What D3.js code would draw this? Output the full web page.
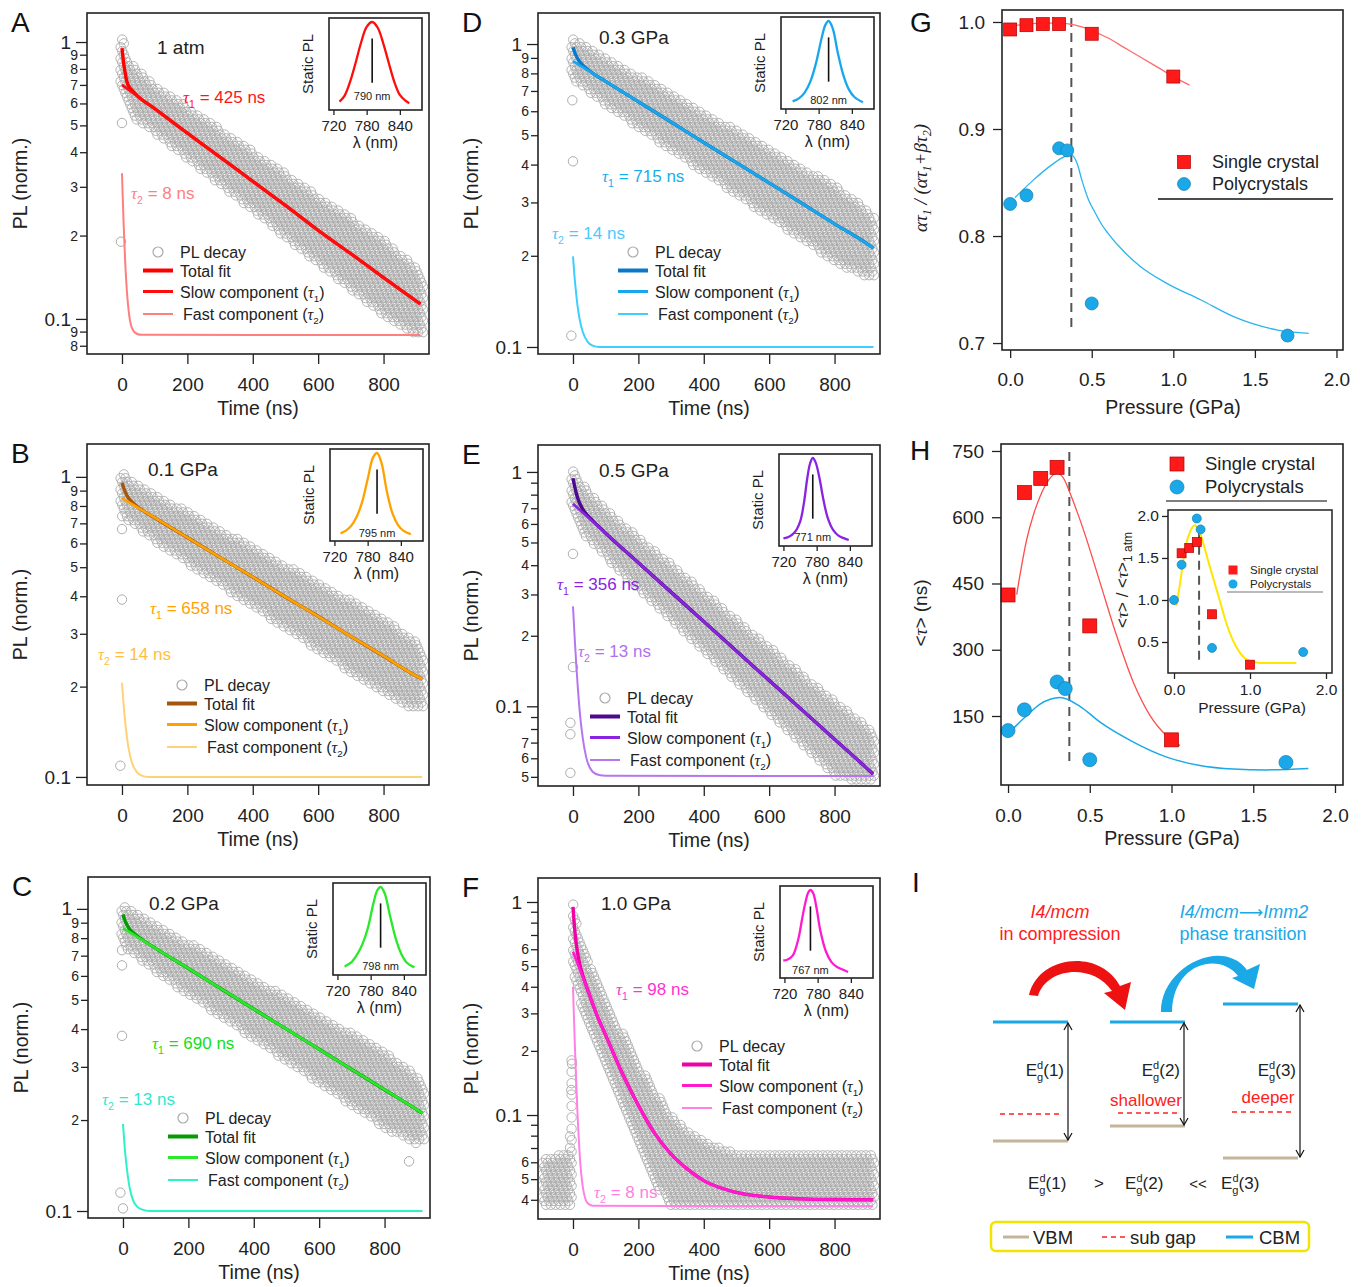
<!DOCTYPE html>
<html>
<head>
<meta charset="utf-8">
<script src="https://cdn.jsdelivr.net/npm/d3@7"></script>
<style>
body { margin: 0; background: #fff; }
svg { display: block; font-family: "Liberation Sans", Arial, sans-serif; }
</style>
</head>
<body>
<svg width="1366" height="1287"></svg>
<script>
// ---------- data ----------
const conditions = ['1 atm', '0.1 GPa', '0.2 GPa', '0.3 GPa', '0.5 GPa', '1.0 GPa'];
const tau1 = [425, 658, 690, 715, 356, 98];
const tau2 = [8, 14, 13, 14, 13, 8];
const peakLabel = [790, 795, 798, 802, 771, 767];
const timeTicks = [0, 200, 400, 600, 800];
const lambdaTicks = [720, 780, 840];
const majorTicks = [1, 0.1];
const minorLabelled = [
  [0.9, 0.8, 0.7, 0.6, 0.5, 0.4, 0.3, 0.2, 0.09, 0.08],
  [0.9, 0.8, 0.7, 0.6, 0.5, 0.4, 0.3, 0.2],
  [0.9, 0.8, 0.7, 0.6, 0.5, 0.4, 0.3, 0.2],
  [0.9, 0.8, 0.7, 0.6, 0.5, 0.4, 0.3, 0.2],
  [0.7, 0.6, 0.5, 0.4, 0.3, 0.2, 0.07, 0.06, 0.05],
  [0.6, 0.5, 0.4, 0.3, 0.2, 0.06, 0.05, 0.04]
];
const minorPlain = [[], [], [], [], [0.9, 0.8, 0.09, 0.08], [0.9, 0.8, 0.7, 0.09, 0.08, 0.07]];

// fit curves [time ns, PL]
const totalA = [[0,0.95],[5,0.84],[10,0.77],[15,0.72],[20,0.695],[30,0.67],[50,0.635],[100,0.575],[200,0.469],[300,0.384],[400,0.314],[500,0.257],[600,0.209],[700,0.172],[800,0.141],[913,0.113]];
const slowA = [[0,0.70],[100,0.573],[200,0.469],[300,0.384],[400,0.314],[500,0.257],[600,0.209],[700,0.172],[800,0.141],[913,0.113]];
const fastA = [[0,0.336],[2,0.282],[5,0.221],[10,0.159],[15,0.126],[20,0.108],[30,0.093],[45,0.0884],[60,0.0876],[913,0.0875]];
const totalB = [[0,0.955],[5,0.92],[10,0.889],[20,0.85],[30,0.825],[50,0.791],[100,0.731],[200,0.628],[300,0.539],[400,0.464],[500,0.398],[600,0.343],[700,0.294],[800,0.253],[900,0.217],[918,0.212]];
const slowB = [[0,0.85],[100,0.731],[200,0.628],[300,0.539],[400,0.464],[500,0.398],[600,0.343],[700,0.294],[800,0.253],[900,0.217],[918,0.212]];
const fastB = [[0,0.206],[5,0.174],[10,0.152],[15,0.136],[20,0.125],[30,0.112],[45,0.104],[60,0.101],[80,0.1],[918,0.1]];
const totalC = [[0,0.958],[5,0.921],[10,0.894],[20,0.858],[30,0.835],[50,0.804],[100,0.74],[200,0.635],[300,0.544],[400,0.466],[500,0.4],[600,0.343],[700,0.294],[800,0.252],[900,0.216],[916,0.2105]];
const slowC = [[0,0.864],[100,0.74],[200,0.635],[300,0.544],[400,0.466],[500,0.4],[600,0.343],[700,0.294],[800,0.252],[900,0.216],[916,0.2105]];
const fastC = [[0,0.194],[5,0.164],[10,0.144],[15,0.13],[20,0.12],[30,0.109],[45,0.103],[60,0.101],[80,0.1],[916,0.1]];
const totalD = [[0,0.975],[5,0.941],[10,0.914],[20,0.876],[30,0.851],[50,0.816],[100,0.753],[200,0.645],[300,0.553],[400,0.473],[500,0.406],[600,0.348],[700,0.298],[800,0.255],[900,0.219],[919,0.212]];
const slowD = [[0,0.878],[100,0.753],[200,0.645],[300,0.553],[400,0.473],[500,0.406],[600,0.348],[700,0.298],[800,0.255],[900,0.219],[919,0.212]];
const fastD = [[0,0.199],[5,0.169],[10,0.149],[15,0.134],[20,0.124],[30,0.112],[45,0.104],[60,0.101],[80,0.1],[919,0.1]];
const totalE = [[0,0.94],[5,0.869],[10,0.811],[15,0.769],[20,0.737],[30,0.693],[40,0.663],[60,0.62],[100,0.548],[200,0.41],[300,0.307],[400,0.23],[500,0.172],[600,0.129],[700,0.0966],[800,0.0723],[900,0.0542],[918,0.0514]];
const slowE = [[0,0.731],[100,0.548],[200,0.41],[300,0.307],[400,0.23],[500,0.172],[600,0.129],[700,0.0966],[800,0.0723],[900,0.0542],[918,0.0514]];
const fastE = [[0,0.267],[5,0.198],[10,0.151],[15,0.119],[20,0.097],[30,0.073],[40,0.061],[60,0.0526],[80,0.0509],[100,0.0505],[918,0.0504]];
const totalF = [[0,0.948],[5,0.752],[10,0.637],[15,0.565],[20,0.516],[30,0.452],[40,0.406],[50,0.368],[75,0.29],[100,0.237],[150,0.158],[200,0.111],[250,0.082],[300,0.0655],[350,0.0557],[400,0.0492],[500,0.0433],[600,0.0412],[700,0.0404],[800,0.0401],[918,0.04]];
const slowF = [[0,0.585],[10,0.533],[20,0.486],[30,0.444],[40,0.404],[50,0.368],[75,0.29],[100,0.237],[150,0.158],[200,0.111],[250,0.082],[300,0.0655],[350,0.0557],[400,0.0492],[500,0.0433],[600,0.0412],[700,0.0404],[800,0.0401],[918,0.04]];
const fastF = [[0,0.4],[2,0.32],[5,0.23],[10,0.14],[15,0.093],[20,0.067],[30,0.046],[45,0.0385],[60,0.0375],[918,0.0373]];

// spread of the measured decay [time, low, high] and lone points [time, PL]
const bandA = [[-8,0.72,1.0],[0,0.66,1.04],[10,0.6,0.95],[30,0.54,0.83],[100,0.471,0.702],[200,0.378,0.582],[300,0.304,0.485],[400,0.245,0.403],[500,0.197,0.335],[600,0.158,0.277],[700,0.128,0.232],[800,0.103,0.193],[900,0.087,0.153],[925,0.087,0.139]];
const bandB = [[-8,0.8,1.0],[0,0.74,1.04],[30,0.7,0.98],[100,0.609,0.878],[200,0.515,0.766],[300,0.435,0.668],[400,0.369,0.584],[500,0.312,0.508],[600,0.264,0.445],[700,0.223,0.387],[800,0.189,0.338],[900,0.167,0.281],[925,0.17,0.26]];
const bandC = [[-8,0.8,1.0],[0,0.75,1.04],[30,0.71,0.99],[100,0.616,0.889],[200,0.52,0.775],[300,0.439,0.674],[400,0.37,0.586],[500,0.313,0.511],[600,0.264,0.445],[700,0.223,0.387],[800,0.188,0.337],[900,0.167,0.28],[925,0.17,0.26]];
const bandD = [[-8,0.8,1.0],[0,0.76,1.04],[30,0.72,1.0],[100,0.627,0.904],[200,0.529,0.787],[300,0.446,0.685],[400,0.376,0.595],[500,0.318,0.518],[600,0.268,0.451],[700,0.226,0.392],[800,0.191,0.341],[900,0.169,0.284],[925,0.171,0.263]];
const bandE = [[-8,0.72,1.0],[0,0.66,1.04],[30,0.54,0.88],[100,0.433,0.693],[200,0.318,0.529],[300,0.233,0.404],[400,0.171,0.309],[500,0.126,0.235],[600,0.0925,0.18],[700,0.068,0.1375],[800,0.05,0.105],[900,0.047,0.082],[925,0.048,0.072]];
const bandF = [[-94,0.0366,0.063],[-10,0.0366,0.066],[-6,0.0366,0.19],[-1,0.05,0.19],[0,0.48,1.04],[8,0.42,0.88],[20,0.35,0.68],[50,0.25,0.5],[100,0.165,0.36],[150,0.11,0.245],[200,0.072,0.175],[250,0.048,0.13],[300,0.0366,0.1],[350,0.0366,0.085],[400,0.0366,0.075],[500,0.0366,0.066],[900,0.0366,0.066],[925,0.0366,0.063]];
const outA = [[0,0.51],[-3,0.19]];
const outB = [[0,0.67],[0,0.39],[-5,0.109]];
const outC = [[-3,0.73],[-3,0.65],[-3,0.38],[-8,0.115],[0,0.102],[875,0.146]];
const outD = [[-2,0.652],[0,0.41],[-5,0.109]];
const outE = [[0,0.447],[0,0.147],[-8,0.085],[-8,0.076],[-8,0.052]];
const outF = [[-3,0.174],[-5,0.131]];

// static PL spectra [wavelength nm, normalised intensity]
const specA = [[731,0.03],[740,0.1],[750,0.27],[760,0.5],[770,0.75],[780,0.94],[790,1],[800,0.93],[810,0.74],[820,0.5],[830,0.27],[840,0.11],[850,0.04],[857,0.01]];
const specB = [[731,0.02],[740,0.05],[750,0.11],[760,0.22],[770,0.4],[780,0.68],[790,0.95],[797,1],[805,0.88],[815,0.52],[825,0.26],[835,0.12],[845,0.05],[858,0.01]];
const specC = [[733,0.03],[745,0.08],[755,0.17],[765,0.3],[775,0.5],[785,0.8],[792,0.96],[798,1],[805,0.93],[815,0.65],[825,0.38],[835,0.19],[845,0.08],[859,0.02]];
const specD = [[733,0.02],[745,0.06],[755,0.13],[765,0.26],[775,0.48],[785,0.78],[792,0.95],[798,1],[805,0.92],[815,0.6],[825,0.33],[835,0.16],[845,0.07],[860,0.01]];
const specE = [[720,0.02],[730,0.04],[740,0.09],[750,0.22],[757,0.45],[763,0.75],[768,0.93],[773,1],[778,0.95],[785,0.76],[792,0.5],[800,0.27],[810,0.12],[820,0.05],[830,0.02],[838,0]];
const specF = [[718,0.14],[725,0.15],[735,0.2],[745,0.4],[752,0.65],[758,0.85],[763,0.97],[767,1],[772,0.96],[778,0.78],[785,0.5],[795,0.25],[805,0.12],[815,0.06],[825,0.03],[835,0]];

// G and H
const pressureSC = [0, 0.1, 0.2, 0.3, 0.5, 1.0];
const pressurePC = [0, 0.1, 0.3, 0.35, 0.5, 1.7];
const ratioSC = [0.993, 0.997, 0.998, 0.998, 0.989, 0.949];
const ratioPC = [0.830, 0.838, 0.882, 0.880, 0.737, 0.707];
const fitRatioSC = [[0,0.996],[0.1,0.998],[0.2,0.999],[0.3,0.999],[0.4,0.997],[0.5,0.992],[0.6,0.985],[0.7,0.976],[0.8,0.967],[0.9,0.958],[1.0,0.949],[1.1,0.941]];
const fitRatioPC = [[0.03,0.836],[0.14,0.852],[0.25,0.866],[0.33,0.874],[0.37,0.876],[0.41,0.868],[0.44,0.852],[0.48,0.834],[0.52,0.822],[0.56,0.811],[0.6,0.8025],[0.7,0.785],[0.8,0.7713],[0.96,0.7558],[1.17,0.7402],[1.37,0.7246],[1.64,0.7121],[1.83,0.709]];
const lifetimeSC = [424, 656, 688, 713, 354, 96];
const lifetimePC = [117, 164, 227, 212, 51, 45];
const fitLifeSC = [[0.053,425],[0.114,549],[0.155,605],[0.196,647],[0.25,685],[0.298,700],[0.34,688],[0.379,655],[0.42,615],[0.461,572],[0.563,452],[0.665,331],[0.767,226],[0.869,151],[0.971,105],[1.052,83]];
const fitLifePC = [[0.02,117],[0.114,151],[0.196,177],[0.318,192],[0.44,172],[0.563,136],[0.767,91],[0.971,57],[1.174,38],[1.378,30],[1.58,28],[1.837,31]];
const insetPressSC = [0.1, 0.2, 0.3, 0.5, 1.0];
const insetRelSC = [1.556, 1.62, 1.69, 0.83, 0.23];
const insetRelPC = [1.0, 1.42, 1.97, 1.84, 0.43, 0.38];
const fitRel = [[0.03,0.93],[0.08,1.2],[0.145,1.6],[0.21,1.81],[0.276,1.89],[0.33,1.82],[0.47,1.4],[0.6,1.0],[0.69,0.72],[0.82,0.44],[0.96,0.29],[1.13,0.25],[1.61,0.25]];
const transitionP = 0.375;
const pressureTicks = [0, 0.5, 1, 1.5, 2];

// ---------- layout ----------
const W = 342, H = 341;
const panels = [
  {key:'A', left:87,  top:13,  yDom:[0.0747,1.273], total:totalA, slow:slowA, fast:fastA, band:bandA, out:outA, spec:specA,
   c:{total:'#ff0000', slow:'#ff0d0d', fast:'#ff7f7f', t1:'#ff1414', t2:'#ff8080'}, cond:[157,47], t1:[183,97], t2:[131,193], leg:[143,252], inset:[329,18], nmDy:14},
  {key:'B', left:87,  top:444, yDom:[0.094,1.287], total:totalB, slow:slowB, fast:fastB, band:bandB, out:outB, spec:specB,
   c:{total:'#a4560f', slow:'#ffa200', fast:'#ffd27a', t1:'#ffa200', t2:'#ffbe40'}, cond:[148,469], t1:[150,608], t2:[98,654], leg:[167,685], inset:[330,449], nmDy:8},
  {key:'C', left:88,  top:877, yDom:[0.0948,1.275], total:totalC, slow:slowC, fast:fastC, band:bandC, out:outC, spec:specC,
   c:{total:'#079a07', slow:'#2ae82a', fast:'#30f0c8', t1:'#14e014', t2:'#30e8cc'}, cond:[149,903], t1:[152,1043], t2:[102,1099], leg:[168,1118], inset:[333,883], nmDy:9},
  {key:'D', left:538, top:13,  yDom:[0.0948,1.266], total:totalD, slow:slowD, fast:fastD, band:bandD, out:outD, spec:specD,
   c:{total:'#0a78c8', slow:'#18a6ec', fast:'#3ccfff', t1:'#18aef0', t2:'#4cc8ff'}, cond:[599,37], t1:[602,176], t2:[552,233], leg:[618,252], inset:[781,17], nmDy:9},
  {key:'E', left:538, top:445, yDom:[0.0457,1.303], total:totalE, slow:slowE, fast:fastE, band:bandE, out:outE, spec:specE,
   c:{total:'#4d0a8f', slow:'#8a24e0', fast:'#b577ef', t1:'#8a24e0', t2:'#b070f0'}, cond:[599,470], t1:[557,584], t2:[578,651], leg:[590,698], inset:[779,454], nmDy:9},
  {key:'F', left:538, top:878, yDom:[0.0325,1.296], total:totalF, slow:slowF, fast:fastF, band:bandF, out:outF, spec:specF,
   c:{total:'#f000a6', slow:'#ff1ad0', fast:'#ff80e6', t1:'#ff33d0', t2:'#ff80e0'}, cond:[601,903], t1:[616,989], t2:[594,1192], leg:[682,1046], inset:[780,886], nmDy:8}
];
const legendRows = [0, 18.5, 39.5, 62];
const serif = '"Liberation Serif", "DejaVu Serif", serif';
const ink = '#222';

const svg = d3.select('svg');
const defs = svg.append('defs');

function subText(t, base, sub, rest, size, subDy) {
  t.append('tspan').attr('font-family', serif).attr('font-style', 'italic').text(base);
  t.append('tspan').attr('font-size', size * 0.62).attr('dy', subDy).text(sub);
  t.append('tspan').attr('dy', -subDy).text(rest);
}

function styleAxis(a, size) {
  a.attr('font-family', null).attr('font-size', size).attr('color', ink);
  a.select('.domain').remove();
  a.selectAll('.tick line').attr('stroke-width', 1.3);
}

function drawPL(p, i) {
  const g = svg.append('g');
  const x = d3.scaleLinear().domain([-107, 939]).range([p.left, p.left + W]);
  const y = d3.scaleLog().domain(p.yDom).range([p.top + H, p.top]);

  defs.append('clipPath').attr('id', 'clip' + p.key)
    .append('rect').attr('x', p.left).attr('y', p.top).attr('width', W).attr('height', H);
  const plot = g.append('g').attr('clip-path', `url(#clip${p.key})`);

  // grey decay cloud: rings on a lattice inside the measured spread
  const poly = p.band.map(d => [x(d[0]), y(d[2])])
    .concat(p.band.slice().reverse().map(d => [x(d[0]), y(d[1])]));
  const pts = [];
  for (let j = 0, yy = p.top; yy <= p.top + H; yy += 3.8, j++) {
    for (let xx = p.left + (j % 3) * 1.6; xx <= p.left + W; xx += 4.8) {
      if (d3.polygonContains(poly, [xx, yy])) pts.push([xx, yy]);
    }
  }
  plot.append('g').selectAll('circle').data(pts).join('circle')
    .attr('cx', d => d[0]).attr('cy', d => d[1]).attr('r', 4.7)
    .attr('fill', 'none').attr('stroke', '#ababab').attr('stroke-width', 0.9);
  plot.append('g').selectAll('circle').data(p.out).join('circle')
    .attr('cx', d => x(d[0])).attr('cy', d => y(d[1])).attr('r', 4.7)
    .attr('fill', 'none').attr('stroke', '#adadad').attr('stroke-width', 1);

  const line = d3.line().x(d => x(d[0])).y(d => y(d[1])).curve(d3.curveMonotoneX);
  plot.append('path').datum(p.fast).attr('d', line).attr('fill', 'none').attr('stroke', p.c.fast).attr('stroke-width', 2);
  plot.append('path').datum(p.total).attr('d', line).attr('fill', 'none').attr('stroke', p.c.total).attr('stroke-width', 3.4);
  plot.append('path').datum(p.slow).attr('d', line).attr('fill', 'none').attr('stroke', p.c.slow).attr('stroke-width', 2.6);

  g.append('rect').attr('x', p.left).attr('y', p.top).attr('width', W).attr('height', H)
    .attr('fill', 'none').attr('stroke', ink).attr('stroke-width', 1.6);

  // axes
  g.append('g').attr('transform', `translate(${p.left},0)`)
    .call(d3.axisLeft(y).tickValues(majorTicks).tickSize(11).tickPadding(5).tickFormat(d => d === 1 ? '1' : '0.1'))
    .call(a => styleAxis(a, 19));
  g.append('g').attr('transform', `translate(${p.left},0)`)
    .call(d3.axisLeft(y).tickValues(minorLabelled[i]).tickSize(7).tickPadding(2)
      .tickFormat(d => Math.round(d / Math.pow(10, Math.floor(Math.log10(d) + 1e-9)))))
    .call(a => styleAxis(a, 14));
  g.append('g').attr('transform', `translate(${p.left},0)`)
    .call(d3.axisLeft(y).tickValues(minorPlain[i]).tickSize(7).tickFormat(''))
    .call(a => styleAxis(a, 14));
  g.append('g').attr('transform', `translate(0,${p.top + H})`)
    .call(d3.axisBottom(x).tickValues(timeTicks).tickSize(10).tickPadding(14).tickFormat(d3.format('d')))
    .call(a => styleAxis(a, 19));

  g.append('text').attr('x', p.left + W / 2).attr('y', p.top + H + 61).attr('text-anchor', 'middle')
    .attr('font-size', 19.5).attr('fill', ink).text('Time (ns)');
  g.append('text').attr('transform', `translate(${p.left - 60},${p.top + H / 2}) rotate(-90)`)
    .attr('text-anchor', 'middle').attr('font-size', 19.5).attr('fill', ink).text('PL (norm.)');
  g.append('text').attr('x', p.left - 76).attr('y', p.top + 19).attr('font-size', 28).attr('fill', '#111').text(p.key);

  // annotations
  g.append('text').attr('x', p.cond[0]).attr('y', p.cond[1] + 7).attr('font-size', 19).attr('fill', ink).text(conditions[i]);
  subText(g.append('text').attr('x', p.t1[0]).attr('y', p.t1[1] + 6).attr('font-size', 17).attr('fill', p.c.t1), 'τ', '1', ` = ${tau1[i]} ns`, 17, 5);
  subText(g.append('text').attr('x', p.t2[0]).attr('y', p.t2[1] + 6).attr('font-size', 17).attr('fill', p.c.t2), 'τ', '2', ` = ${tau2[i]} ns`, 17, 5);

  // legend
  const lx = p.leg[0], ly = p.leg[1];
  g.append('circle').attr('cx', lx + 15).attr('cy', ly).attr('r', 5).attr('fill', 'none').attr('stroke', '#aaa').attr('stroke-width', 1.2);
  [[p.c.total, 4], [p.c.slow, 3], [p.c.fast, 2]].forEach((s, k) => {
    g.append('line').attr('x1', lx).attr('x2', lx + 30).attr('y1', ly + legendRows[k + 1]).attr('y2', ly + legendRows[k + 1])
      .attr('stroke', s[0]).attr('stroke-width', s[1]);
  });
  const lt = (k, dx) => g.append('text').attr('x', lx + dx).attr('y', ly + legendRows[k] + 6).attr('font-size', 16).attr('fill', ink);
  lt(0, 37).text('PL decay');
  lt(1, 37).text('Total fit');
  subText(lt(2, 37).text('Slow component ('), 'τ', '1', ')', 16, 4);
  subText(lt(3, 40).text('Fast component ('), 'τ', '2', ')', 16, 4);

  // inset spectrum
  const il = p.inset[0], it = p.inset[1], iw = 93, ih = 92;
  const ix = d3.scaleLinear().domain([712, 880]).range([il, il + iw]);
  const iy = d3.scaleLinear().domain([0, 1]).range([it + ih - 6, it + 4]);
  g.append('rect').attr('x', il).attr('y', it).attr('width', iw).attr('height', ih).attr('fill', '#fff')
    .attr('stroke', ink).attr('stroke-width', 1.6);
  g.append('path').datum(p.spec).attr('fill', 'none').attr('stroke', p.c.slow).attr('stroke-width', 2.3)
    .attr('d', d3.line().x(d => ix(d[0])).y(d => iy(d[1])).curve(d3.curveCatmullRom));
  const peak = p.spec.reduce((a, b) => (b[1] > a[1] ? b : a));
  g.append('line').attr('x1', ix(peak[0])).attr('x2', ix(peak[0])).attr('y1', iy(0.8)).attr('y2', iy(0.26))
    .attr('stroke', '#111').attr('stroke-width', 1.6);
  g.append('text').attr('x', ix(peak[0])).attr('y', it + ih - p.nmDy + 4).attr('text-anchor', 'middle')
    .attr('font-size', 11).attr('fill', ink).text(peakLabel[i] + ' nm');
  g.append('g').attr('transform', `translate(0,${it + ih})`)
    .call(d3.axisBottom(ix).tickValues(lambdaTicks).tickSize(5).tickPadding(5))
    .call(a => styleAxis(a, 15));
  g.append('text').attr('x', il + iw / 2).attr('y', it + ih + 38).attr('text-anchor', 'middle')
    .attr('font-size', 16).attr('fill', ink).text('λ (nm)');
  g.append('text').attr('transform', `translate(${il - 16},${it + ih / 2}) rotate(-90)`)
    .attr('text-anchor', 'middle').attr('font-size', 15).attr('fill', ink).text('Static PL');
}

panels.forEach(drawPL);

// ---------- shared helpers for G/H ----------
const red = '#ff1a1a', blue = '#1aa8e8';
function squares(g, xs, ys, sx, sy, s) {
  g.selectAll(null).data(xs).join('rect')
    .attr('x', d => sx(d) - s / 2).attr('y', (d, k) => sy(ys[k]) - s / 2)
    .attr('width', s).attr('height', s).attr('fill', red).attr('stroke', '#b00000').attr('stroke-width', 0.7);
}
function dots(g, xs, ys, sx, sy, r) {
  g.selectAll(null).data(xs).join('circle')
    .attr('cx', d => sx(d)).attr('cy', (d, k) => sy(ys[k])).attr('r', r)
    .attr('fill', blue).attr('stroke', '#167fb2').attr('stroke-width', 0.7);
}
function fitLine(g, data, sx, sy, color, w) {
  g.append('path').datum(data).attr('fill', 'none').attr('stroke', color).attr('stroke-width', w)
    .attr('d', d3.line().x(d => sx(d[0])).y(d => sy(d[1])).curve(d3.curveMonotoneX));
}
function dashed(g, x, y0, y1) {
  g.append('line').attr('x1', x).attr('x2', x).attr('y1', y0).attr('y2', y1)
    .attr('stroke', '#555').attr('stroke-width', 2).attr('stroke-dasharray', '9,6');
}

// ---------- G ----------
{
  const g = svg.append('g');
  const x = d3.scaleLinear().domain([-0.05, 2.04]).range([1002, 1343]);
  const y = d3.scaleLinear().domain([0.6935, 1.0112]).range([350, 10]);
  dashed(g, x(transitionP), y(0.715), y(1.005));
  fitLine(g, fitRatioSC, x, y, '#ff6b6b', 1.3);
  fitLine(g, fitRatioPC, x, y, '#2ab4ee', 1.3);
  squares(g, pressureSC, ratioSC, x, y, 13);
  dots(g, pressurePC, ratioPC, x, y, 6.5);
  g.append('rect').attr('x', 1002).attr('y', 10).attr('width', 341).attr('height', 340)
    .attr('fill', 'none').attr('stroke', ink).attr('stroke-width', 1.6);
  g.append('g').attr('transform', 'translate(1002,0)')
    .call(d3.axisLeft(y).tickValues([0.7, 0.8, 0.9, 1.0]).tickSize(9).tickPadding(8).tickFormat(d3.format('.1f')))
    .call(a => styleAxis(a, 19));
  g.append('g').attr('transform', 'translate(0,350)')
    .call(d3.axisBottom(x).tickValues(pressureTicks).tickSize(8).tickPadding(15).tickFormat(d3.format('.1f')))
    .call(a => styleAxis(a, 19));
  g.append('text').attr('x', 1173).attr('y', 414).attr('text-anchor', 'middle').attr('font-size', 19.5).attr('fill', ink).text('Pressure (GPa)');
  const yl = g.append('text').attr('transform', 'translate(927,178) rotate(-90)').attr('text-anchor', 'middle')
    .attr('font-size', 19).attr('font-family', serif).attr('font-style', 'italic').attr('fill', ink);
  yl.append('tspan').text('ατ');
  yl.append('tspan').attr('font-size', 12).attr('dy', 4).text('1');
  yl.append('tspan').attr('dy', -4).text(' / (ατ');
  yl.append('tspan').attr('font-size', 12).attr('dy', 4).text('1');
  yl.append('tspan').attr('dy', -4).text('+βτ');
  yl.append('tspan').attr('font-size', 12).attr('dy', 4).text('2');
  yl.append('tspan').attr('dy', -4).text(')');
  g.append('rect').attr('x', 1177.5).attr('y', 155.5).attr('width', 13).attr('height', 13).attr('fill', red).attr('stroke', '#b00000').attr('stroke-width', 0.7);
  g.append('circle').attr('cx', 1184).attr('cy', 184).attr('r', 6.5).attr('fill', blue).attr('stroke', '#167fb2').attr('stroke-width', 0.7);
  g.append('text').attr('x', 1212).attr('y', 168).attr('font-size', 18).attr('fill', ink).text('Single crystal');
  g.append('text').attr('x', 1212).attr('y', 190).attr('font-size', 18).attr('fill', ink).text('Polycrystals');
  g.append('line').attr('x1', 1158).attr('x2', 1333).attr('y1', 199).attr('y2', 199).attr('stroke', '#111').attr('stroke-width', 1.5);
  g.append('text').attr('x', 910).attr('y', 32).attr('font-size', 28).attr('fill', '#111').text('G');
}

// ---------- H ----------
{
  const g = svg.append('g');
  const x = d3.scaleLinear().domain([-0.043, 2.049]).range([1001, 1343]);
  const y = d3.scaleLinear().domain([-6.2, 765.8]).range([785, 444]);
  dashed(g, x(transitionP), y(48), y(757));
  fitLine(g, fitLifeSC, x, y, '#ff4d4d', 1.3);
  fitLine(g, fitLifePC, x, y, '#1aa8e8', 1.5);
  squares(g, pressureSC, lifetimeSC, x, y, 14);
  dots(g, pressurePC, lifetimePC, x, y, 7);
  g.append('rect').attr('x', 1001).attr('y', 444).attr('width', 342).attr('height', 341)
    .attr('fill', 'none').attr('stroke', ink).attr('stroke-width', 1.6);
  g.append('g').attr('transform', 'translate(1001,0)')
    .call(d3.axisLeft(y).tickValues([150, 300, 450, 600, 750]).tickSize(9).tickPadding(8))
    .call(a => styleAxis(a, 19));
  g.append('g').attr('transform', 'translate(0,785)')
    .call(d3.axisBottom(x).tickValues(pressureTicks).tickSize(8).tickPadding(16).tickFormat(d3.format('.1f')))
    .call(a => styleAxis(a, 19));
  g.append('text').attr('x', 1172).attr('y', 845).attr('text-anchor', 'middle').attr('font-size', 19.5).attr('fill', ink).text('Pressure (GPa)');
  const yl = g.append('text').attr('transform', 'translate(927,613) rotate(-90)').attr('text-anchor', 'middle')
    .attr('font-size', 19).attr('fill', ink);
  yl.append('tspan').text('<');
  yl.append('tspan').attr('font-family', serif).attr('font-style', 'italic').text('τ');
  yl.append('tspan').text('> (ns)');
  g.append('rect').attr('x', 1170).attr('y', 457).attr('width', 14).attr('height', 14).attr('fill', red).attr('stroke', '#b00000').attr('stroke-width', 0.7);
  g.append('circle').attr('cx', 1177).attr('cy', 487).attr('r', 7).attr('fill', blue).attr('stroke', '#167fb2').attr('stroke-width', 0.7);
  g.append('text').attr('x', 1205).attr('y', 470).attr('font-size', 18.5).attr('fill', ink).text('Single crystal');
  g.append('text').attr('x', 1205).attr('y', 493).attr('font-size', 18.5).attr('fill', ink).text('Polycrystals');
  g.append('line').attr('x1', 1166).attr('x2', 1327).attr('y1', 501).attr('y2', 501).attr('stroke', '#555').attr('stroke-width', 1.5);
  g.append('text').attr('x', 910).attr('y', 460).attr('font-size', 28).attr('fill', '#111').text('H');

  // inset
  const ix = d3.scaleLinear().domain([-0.079, 2.079]).range([1168, 1332]);
  const iy = d3.scaleLinear().domain([0.131, 2.071]).range([673, 510]);
  g.append('rect').attr('x', 1168).attr('y', 510).attr('width', 164).attr('height', 163).attr('fill', '#fff');
  dashed(g, ix(0.33), iy(0.29), iy(1.89));
  fitLine(g, fitRel, ix, iy, '#ffe600', 2);
  squares(g, insetPressSC, insetRelSC, ix, iy, 9);
  dots(g, pressurePC, insetRelPC, ix, iy, 4.5);
  g.append('rect').attr('x', 1168).attr('y', 510).attr('width', 164).attr('height', 163)
    .attr('fill', 'none').attr('stroke', ink).attr('stroke-width', 1.5);
  g.append('g').attr('transform', 'translate(1168,0)')
    .call(d3.axisLeft(iy).tickValues([0.5, 1.0, 1.5, 2.0]).tickSize(6).tickPadding(3).tickFormat(d3.format('.1f')))
    .call(a => styleAxis(a, 15.5));
  g.append('g').attr('transform', 'translate(0,673)')
    .call(d3.axisBottom(ix).tickValues([0, 1, 2]).tickSize(6).tickPadding(5).tickFormat(d3.format('.1f')))
    .call(a => styleAxis(a, 15.5));
  g.append('text').attr('x', 1252).attr('y', 713).attr('text-anchor', 'middle').attr('font-size', 15.5).attr('fill', ink).text('Pressure (GPa)');
  const il = g.append('text').attr('transform', 'translate(1128,580) rotate(-90)').attr('text-anchor', 'middle')
    .attr('font-size', 17).attr('fill', ink);
  il.append('tspan').text('<');
  il.append('tspan').attr('font-family', serif).attr('font-style', 'italic').text('τ');
  il.append('tspan').text('> / <');
  il.append('tspan').attr('font-family', serif).attr('font-style', 'italic').text('τ');
  il.append('tspan').text('>');
  il.append('tspan').attr('font-size', 12).attr('dy', 4).text('1 atm');
  g.append('rect').attr('x', 1228.5).attr('y', 565.5).attr('width', 9).attr('height', 9).attr('fill', red);
  g.append('circle').attr('cx', 1233).attr('cy', 584).attr('r', 4.5).attr('fill', blue);
  g.append('text').attr('x', 1250).attr('y', 574).attr('font-size', 11.5).attr('fill', ink).text('Single crystal');
  g.append('text').attr('x', 1250).attr('y', 588).attr('font-size', 11.5).attr('fill', ink).text('Polycrystals');
  g.append('line').attr('x1', 1227).attr('x2', 1323).attr('y1', 592).attr('y2', 592).attr('stroke', '#777').attr('stroke-width', 1.2);
}

// ---------- I : schematic ----------
{
  const g = svg.append('g');
  const cRed = '#ff2020', cBlue = '#1aa8e6', cTan = '#c4b59a';
  g.append('text').attr('x', 912).attr('y', 892).attr('font-size', 28).attr('fill', '#111').text('I');

  const t1 = g.append('text').attr('x', 1060).attr('y', 918).attr('text-anchor', 'middle').attr('font-size', 18).attr('fill', cRed);
  t1.append('tspan').attr('font-style', 'italic').text('I4/mcm');
  g.append('text').attr('x', 1060).attr('y', 940).attr('text-anchor', 'middle').attr('font-size', 18).attr('fill', cRed).text('in compression');
  const t2 = g.append('text').attr('x', 1244).attr('y', 918).attr('text-anchor', 'middle').attr('font-size', 18).attr('fill', cBlue);
  t2.append('tspan').attr('font-style', 'italic').text('I4/mcm');
  t2.append('tspan').attr('font-family', '"DejaVu Sans", sans-serif').attr('font-size', 17).text('⟶');
  t2.append('tspan').attr('font-style', 'italic').text('Imm2');
  g.append('text').attr('x', 1243).attr('y', 940).attr('text-anchor', 'middle').attr('font-size', 18).attr('fill', cBlue).text('phase transition');

  g.append('path').attr('fill', '#ee1111')
    .attr('d', 'M1029,995 C1038,955 1100,948 1120,986 L1131,982 L1125,1010 L1104,993 L1112,991 C1092,962 1046,968 1038,996 Z');
  g.append('path').attr('fill', cBlue)
    .attr('d', 'M1161,1012 C1160,968 1222,936 1247,970 L1260,964 L1254,989 L1232,978 L1238,976 C1220,952 1173,962 1172,1012 Z');

  const levels = [
    {x0: 993,  x1: 1068, cbm: 1022, vbm: 1141, sub: 1114, s0: 1000, s1: 1062, ax: 1068},
    {x0: 1110, x1: 1185, cbm: 1022, vbm: 1126, sub: 1113, s0: 1118, s1: 1178, ax: 1184},
    {x0: 1223, x1: 1298, cbm: 1004, vbm: 1158, sub: 1112, s0: 1232, s1: 1293, ax: 1300}
  ];
  function egText(t, n) {
    t.attr('font-size', 17).attr('fill', ink);
    t.append('tspan').text('E');
    t.append('tspan').attr('font-size', 11).attr('dy', 5).text('g');
    t.append('tspan').attr('font-size', 11).attr('dx', -6).attr('dy', -12).text('d');
    t.append('tspan').attr('dy', 7).text(`(${n})`);
  }
  levels.forEach((L, k) => {
    g.append('line').attr('x1', L.x0).attr('x2', L.x1).attr('y1', L.cbm).attr('y2', L.cbm).attr('stroke', cBlue).attr('stroke-width', 3);
    g.append('line').attr('x1', L.x0).attr('x2', L.x1).attr('y1', L.vbm).attr('y2', L.vbm).attr('stroke', cTan).attr('stroke-width', 3);
    g.append('line').attr('x1', L.s0).attr('x2', L.s1).attr('y1', L.sub).attr('y2', L.sub).attr('stroke', cRed)
      .attr('stroke-width', 1.4).attr('stroke-dasharray', '5,4');
    g.append('line').attr('x1', L.ax).attr('x2', L.ax).attr('y1', L.cbm + 1).attr('y2', L.vbm - 1).attr('stroke', '#111').attr('stroke-width', 1.2);
    g.append('path').attr('fill', 'none').attr('stroke', '#111').attr('stroke-width', 1.2)
      .attr('d', `M${L.ax - 4},${L.cbm + 8} L${L.ax},${L.cbm + 1} L${L.ax + 4},${L.cbm + 8} M${L.ax - 4},${L.vbm - 8} L${L.ax},${L.vbm - 1} L${L.ax + 4},${L.vbm - 8}`);
    egText(g.append('text').attr('x', L.ax - 4).attr('y', 1076).attr('text-anchor', 'end'), k + 1);
  });
  g.append('text').attr('x', 1146).attr('y', 1106).attr('text-anchor', 'middle').attr('font-size', 17).attr('fill', cRed).text('shallower');
  g.append('text').attr('x', 1268).attr('y', 1103).attr('text-anchor', 'middle').attr('font-size', 17).attr('fill', cRed).text('deeper');

  egText(g.append('text').attr('x', 1028).attr('y', 1189), 1);
  g.append('text').attr('x', 1099).attr('y', 1189).attr('text-anchor', 'middle').attr('font-size', 17).attr('fill', ink).text('>');
  egText(g.append('text').attr('x', 1125).attr('y', 1189), 2);
  g.append('text').attr('x', 1198).attr('y', 1189).attr('text-anchor', 'middle').attr('font-size', 15).attr('fill', ink).text('<<');
  egText(g.append('text').attr('x', 1221).attr('y', 1189), 3);

  g.append('rect').attr('x', 991).attr('y', 1222).attr('width', 318).attr('height', 29).attr('rx', 5)
    .attr('fill', 'none').attr('stroke', '#f0e400').attr('stroke-width', 2.5);
  g.append('line').attr('x1', 1003).attr('x2', 1029).attr('y1', 1237).attr('y2', 1237).attr('stroke', cTan).attr('stroke-width', 3);
  g.append('text').attr('x', 1033).attr('y', 1244).attr('font-size', 18.5).attr('fill', ink).text('VBM');
  g.append('line').attr('x1', 1102).attr('x2', 1128).attr('y1', 1237).attr('y2', 1237).attr('stroke', cRed)
    .attr('stroke-width', 1.4).attr('stroke-dasharray', '5,4');
  g.append('text').attr('x', 1130).attr('y', 1244).attr('font-size', 18.5).attr('fill', ink).text('sub gap');
  g.append('line').attr('x1', 1226).attr('x2', 1253).attr('y1', 1237).attr('y2', 1237).attr('stroke', cBlue).attr('stroke-width', 3);
  g.append('text').attr('x', 1259).attr('y', 1244).attr('font-size', 18.5).attr('fill', ink).text('CBM');
}
</script>
</body>
</html>
